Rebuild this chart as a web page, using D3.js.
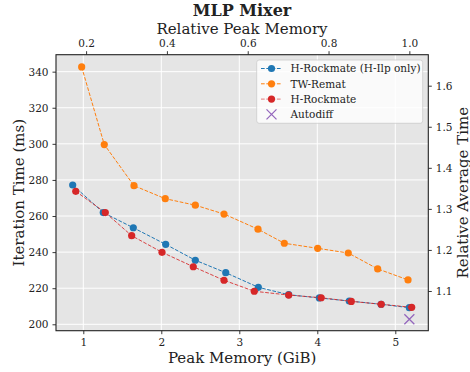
<!DOCTYPE html>
<html><head><meta charset="utf-8">
<script src="https://cdn.jsdelivr.net/npm/d3@7"></script>
<style>body{margin:0;background:#fff}svg{display:block}text{font-family:"DejaVu Serif",serif;fill:#222}</style>
</head><body><svg id="c" width="470" height="372"></svg>
<script>
const hIlpMem  = [0.864,1.256,1.641,2.056,2.436,2.826,3.244,3.633,4.026,4.41,4.817,5.18];
const hIlpTime = [277.2,261.9,253.5,244.3,235.5,228.6,220.5,216.4,214.6,212.9,211.1,209.2];
const twMem    = [0.979,1.269,1.65,2.051,2.436,2.804,3.24,3.577,4.005,4.397,4.774,5.163];
const twTime   = [342.6,299.6,276.8,269.6,266.0,261.1,252.7,244.9,242.1,239.5,230.7,224.6];
const hrMem    = [0.903,1.282,1.62,2.009,2.41,2.804,3.192,3.633,4.05,4.436,4.82,5.21];
const hrTime   = [273.7,261.9,249.1,239.9,231.9,224.4,218.3,216.2,214.7,212.7,211.1,209.4];
const autodiffMem = [5.18];
const autodiffTime = [202.8];
const bottomTicks = [1,2,3,4,5];
const leftTicks = [200,220,240,260,280,300,320,340];
const topTicks = [0.2,0.4,0.6,0.8,1.0];
const rightTicks = [1.1,1.2,1.3,1.4,1.5,1.6];
const seriesNames = ["H-Rockmate (H-Ilp only)","TW-Remat","H-Rockmate","Autodiff"];
const colors = ["#1f77b4","#ff7f0e","#d62728","#9467bd"];

const L=56,R=428.3,T=54.7,B=330.7;
const svg=d3.select("#c");
const x=d3.scaleLinear().domain([0.65,5.423]).range([L,R]);
const y=d3.scaleLinear().domain([196.45,349.4]).range([B,T]);
const xTop=d3.scaleLinear().domain([0.65/5.18,5.423/5.18]).range([L,R]);
const yR=d3.scaleLinear().domain([1.0033,1.6755]).range([B,T]);

svg.append("rect").attr("x",L).attr("y",T).attr("width",R-L).attr("height",B-T).attr("fill","#e5e5e5");
// grid
svg.append("g").selectAll("line").data(bottomTicks).join("line")
 .attr("x1",d=>x(d)).attr("x2",d=>x(d)).attr("y1",T).attr("y2",B).attr("stroke","#fff").attr("stroke-width",1);
svg.append("g").selectAll("line").data(leftTicks).join("line")
 .attr("y1",d=>y(d)).attr("y2",d=>y(d)).attr("x1",L).attr("x2",R).attr("stroke","#fff").attr("stroke-width",1);

function styleAxis(g){
  g.select(".domain").remove();
  g.selectAll(".tick line").attr("stroke","#222").attr("stroke-width",0.9);
  g.selectAll(".tick text").attr("font-size","10.5px").attr("font-family","DejaVu Serif").attr("fill","#222");
}
svg.append("g").attr("transform",`translate(0,${B})`).call(d3.axisBottom(x).tickValues(bottomTicks).tickFormat(d3.format("d")).tickSize(3.5).tickPadding(4)).call(styleAxis);
svg.append("g").attr("transform",`translate(${L},0)`).call(d3.axisLeft(y).tickValues(leftTicks).tickFormat(d3.format("d")).tickSize(3.5).tickPadding(4)).call(styleAxis);
svg.append("g").attr("transform",`translate(0,${T})`).call(d3.axisTop(xTop).tickValues(topTicks).tickFormat(d3.format(".1f")).tickSize(3.5).tickPadding(4)).call(styleAxis);
svg.append("g").attr("transform",`translate(${R},0)`).call(d3.axisRight(yR).tickValues(rightTicks).tickFormat(d3.format(".1f")).tickSize(3.5).tickPadding(4)).call(styleAxis);

const line=d3.line().x(d=>x(d[0])).y(d=>y(d[1]));
const series=[[hIlpMem,hIlpTime],[twMem,twTime],[hrMem,hrTime]];
series.forEach((s,i)=>{
  const pts=s[0].map((m,j)=>[m,s[1][j]]);
  svg.append("path").datum(pts).attr("d",line).attr("fill","none").attr("stroke",colors[i])
    .attr("stroke-width",1).attr("stroke-dasharray","3.7,1.6").attr("opacity",i==2?0.85:1);
  svg.append("g").selectAll("circle").data(pts).join("circle")
    .attr("cx",d=>x(d[0])).attr("cy",d=>y(d[1])).attr("r",3.6).attr("fill",colors[i]);
});
function xMark(g,cx,cy,s,c){
  g.append("path").attr("d",`M${cx-s},${cy-s}L${cx+s},${cy+s}M${cx-s},${cy+s}L${cx+s},${cy-s}`)
   .attr("stroke",c).attr("stroke-width",1.3).attr("fill","none");
}
autodiffMem.forEach((m,j)=>xMark(svg,x(m),y(autodiffTime[j]),5,colors[3]));

// frame
svg.append("rect").attr("x",L).attr("y",T).attr("width",R-L).attr("height",B-T).attr("fill","none").attr("stroke","#222").attr("stroke-width",1.1);

// legend
const lg=svg.append("g");
lg.append("rect").attr("x",256.7).attr("y",60).attr("width",166).attr("height",63.3).attr("rx",2.5)
  .attr("fill","#fff").attr("fill-opacity",0.8).attr("stroke","#ccc").attr("stroke-width",0.8);
seriesNames.forEach((n,i)=>{
  const yy=68.5+i*15.3;
  if(i<3){
    lg.append("line").attr("x1",261).attr("x2",282).attr("y1",yy).attr("y2",yy).attr("stroke",colors[i])
      .attr("stroke-width",1).attr("stroke-dasharray","3.7,1.6").attr("opacity",i==2?0.6:1);
    lg.append("circle").attr("cx",271.5).attr("cy",yy).attr("r",3.6).attr("fill",colors[i]);
  } else xMark(lg,271.5,yy,5,colors[3]);
  lg.append("text").attr("x",290.5).attr("y",yy+3.8).attr("font-size","10.5px").text(n);
});

svg.append("text").attr("x",242).attr("y",16).attr("text-anchor","middle").attr("font-size","16px").attr("font-weight","bold").text("MLP Mixer");
svg.append("text").attr("x",242).attr("y",33.5).attr("text-anchor","middle").attr("font-size","15px").text("Relative Peak Memory");
svg.append("text").attr("x",(L+R)/2).attr("y",363).attr("text-anchor","middle").attr("font-size","15px").text("Peak Memory (GiB)");
svg.append("text").attr("transform",`translate(24,${(T+B)/2}) rotate(-90)`).attr("text-anchor","middle").attr("font-size","15px").text("Iteration Time (ms)");
svg.append("text").attr("transform",`translate(467.5,${(T+B)/2}) rotate(-90)`).attr("text-anchor","middle").attr("font-size","15px").text("Relative Average Time");
</script></body></html>
